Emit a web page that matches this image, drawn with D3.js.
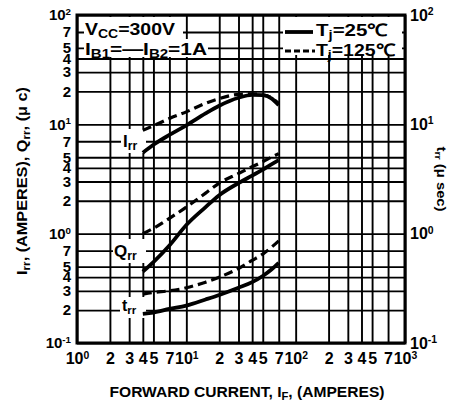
<!DOCTYPE html>
<html>
<head>
<meta charset="utf-8">
<script src="https://cdn.jsdelivr.net/npm/d3@7"></script>
<style>
  body { margin: 0; background: #fff; }
  text { font-family: "Liberation Sans", Arial, sans-serif; font-weight: bold; fill: #000; }
</style>
</head>
<body>
<svg id="chart" width="459" height="407"></svg>
<script>
// forward current I_F (amperes) where the curves were read
const forwardCurrent = [4, 5, 7, 10, 15, 20, 30, 40, 50, 60, 70];

// Irr (A), Qrr (uC), trr (usec) at Tj = 25C and 125C
const irr25  = [5.5, 6.5, 8.0, 9.8, 12.6, 14.8, 17.5, 18.6, 18.5, 17.3, 15.0];
const irr125 = [8.8, 9.7, 11.3, 13.0, 15.6, 17.2, 18.8, 19.0, 18.6, 17.5, 15.5];
const qrr25  = [0.45, 0.55, 0.78, 1.2, 1.75, 2.25, 2.9, 3.4, 3.85, 4.3, 4.7];
const qrr125 = [1.0, 1.12, 1.38, 1.75, 2.35, 2.9, 3.55, 4.1, 4.55, 5.0, 5.4];
const trr25  = [0.185, 0.19, 0.205, 0.22, 0.25, 0.275, 0.32, 0.36, 0.41, 0.47, 0.54];
const trr125 = [0.28, 0.29, 0.30, 0.32, 0.36, 0.40, 0.48, 0.57, 0.65, 0.75, 0.86];

// grid / tick values
const xTicks = [1, 2, 3, 4, 5, 7, 10, 20, 30, 40, 50, 70, 100, 200, 300, 400, 500, 700, 1000];
const yTicks = [0.1, 0.2, 0.3, 0.4, 0.5, 0.7, 1, 2, 3, 4, 5, 7, 10, 20, 30, 40, 50, 70, 100];
const yRightTicks = [0.1, 1, 10, 100];

const svg = d3.select("#chart");
const pl = 77, pr = 405, pt = 15, pb = 343;

const x = d3.scaleLog().domain([1, 1000]).range([pl, pr]);
const y = d3.scaleLog().domain([0.1, 100]).range([pb, pt]);
const yRight = d3.scaleLog().domain([0.1, 100]).range([pb, pt]);

svg.append("rect").attr("width", 459).attr("height", 407).attr("fill", "#fff");

// label like 10^n, or plain digit
function tickLabel(sel) {
  sel.each(function(d) {
    const t = d3.select(this);
    const e = Math.log10(d);
    if (Math.abs(e - Math.round(e)) < 1e-9) {
      t.text(null);
      t.append("tspan").text("10");
      t.append("tspan").attr("font-size", "0.65em").attr("dy", "-0.55em").text(Math.round(e));
    } else {
      t.text(String(Math.round(d / Math.pow(10, Math.floor(e + 1e-9)))));
    }
  });
}

// text with subscripts: parts = [[str, isSub], ...]
function rich(t, parts) {
  let down = false;
  parts.forEach(([s, sub]) => {
    const sp = t.append("tspan").text(s);
    if (sub) { sp.attr("font-size", "0.72em").attr("dy", down ? null : "0.28em"); down = true; }
    else if (down) { sp.attr("dy", "-0.2em"); down = false; }
  });
  return t;
}

// grid
const gx = svg.append("g")
  .attr("transform", `translate(0,${pb})`)
  .call(d3.axisBottom(x).tickValues(xTicks).tickSize(-(pb - pt)).tickFormat(""));
const gy = svg.append("g")
  .attr("transform", `translate(${pl},0)`)
  .call(d3.axisLeft(y).tickValues(yTicks).tickSize(-(pr - pl)).tickFormat(""));
[gx, gy].forEach(g => {
  g.select(".domain").remove();
  g.selectAll("line").attr("stroke", "#000").attr("stroke-width", 1.9);
});

// white boxes behind the in-plot texts
const boxes = [
  [84, 17, 99, 40], [183, 39, 25, 18], [283, 17, 119, 38],
  [121, 129, 25, 24], [113, 239, 33, 24], [120, 297, 26, 21]
];
svg.append("g").selectAll("rect").data(boxes).join("rect")
  .attr("x", d => d[0]).attr("y", d => d[1]).attr("width", d => d[2]).attr("height", d => d[3])
  .attr("fill", "#fff");

// curves
const line = (sc) => d3.line().x(d => x(d[0])).y(d => sc(d[1])).curve(d3.curveMonotoneX);
const series = [
  { v: irr25, sc: y, dash: null }, { v: irr125, sc: y, dash: "9,5" },
  { v: qrr25, sc: y, dash: null }, { v: qrr125, sc: y, dash: "9,5" },
  { v: trr25, sc: yRight, dash: null }, { v: trr125, sc: yRight, dash: "9,5" }
];
svg.append("g").selectAll("path").data(series).join("path")
  .attr("d", s => line(s.sc)(forwardCurrent.map((f, i) => [f, s.v[i]])))
  .attr("fill", "none").attr("stroke", "#000")
  .attr("stroke-width", s => s.dash ? 3.2 : 3.8)
  .attr("stroke-dasharray", s => s.dash);

// frame
svg.append("rect").attr("x", pl).attr("y", pt).attr("width", pr - pl).attr("height", pb - pt)
  .attr("fill", "none").attr("stroke", "#000").attr("stroke-width", 3);

// tick labels
const ax = svg.append("g").attr("transform", `translate(0,${pb})`)
  .call(d3.axisBottom(x).tickValues(xTicks).tickSize(0).tickPadding(10));
const ayl = svg.append("g").attr("transform", `translate(${pl},0)`)
  .call(d3.axisLeft(y).tickValues(yTicks).tickSize(0).tickPadding(6));
const ayr = svg.append("g").attr("transform", `translate(${pr},0)`)
  .call(d3.axisRight(yRight).tickValues(yRightTicks).tickSize(0).tickPadding(5));
[[ax, 16], [ayl, 15], [ayr, 16]].forEach(([g, fs]) => {
  g.select(".domain").remove();
  g.attr("font-size", fs).attr("font-family", null);
  g.selectAll("text").attr("fill", "#000").call(tickLabel);
});

// in-plot legend texts
rich(svg.append("text").attr("x", 85).attr("y", 35).attr("font-size", 17)
  .attr("textLength", 90).attr("lengthAdjust", "spacingAndGlyphs"),
  [["V", 0], ["CC", 1], ["=300V", 0]]);
rich(svg.append("text").attr("x", 85).attr("y", 55).attr("font-size", 17)
  .attr("textLength", 122).attr("lengthAdjust", "spacingAndGlyphs"),
  [["I", 0], ["B1", 1], ["=\u2014I", 0], ["B2", 1], ["=1A", 0]]);

svg.append("line").attr("x1", 285).attr("x2", 313).attr("y1", 32).attr("y2", 32)
  .attr("stroke", "#000").attr("stroke-width", 3.8);
svg.append("line").attr("x1", 285).attr("x2", 315).attr("y1", 51).attr("y2", 51)
  .attr("stroke", "#000").attr("stroke-width", 3.2).attr("stroke-dasharray", "6,3");
rich(svg.append("text").attr("x", 316).attr("y", 36).attr("font-size", 17)
  .attr("textLength", 72).attr("lengthAdjust", "spacingAndGlyphs"),
  [["T", 0], ["j", 1], ["=25\u2103", 0]]);
rich(svg.append("text").attr("x", 316).attr("y", 56).attr("font-size", 17)
  .attr("textLength", 79).attr("lengthAdjust", "spacingAndGlyphs"),
  [["T", 0], ["j", 1], ["=125\u2103", 0]]);

// curve names
rich(svg.append("text").attr("x", 123).attr("y", 147).attr("font-size", 17), [["I", 0], ["rr", 1]]);
rich(svg.append("text").attr("x", 114).attr("y", 257).attr("font-size", 17), [["Q", 0], ["rr", 1]]);
rich(svg.append("text").attr("x", 122).attr("y", 311).attr("font-size", 16), [["t", 0], ["rr", 1]]);

// axis titles
rich(svg.append("text").attr("transform", "translate(27,181) rotate(-90)")
  .attr("text-anchor", "middle").attr("font-size", 14)
  .attr("textLength", 188).attr("lengthAdjust", "spacingAndGlyphs"),
  [["I", 0], ["rr", 1], [", (AMPERES), Q", 0], ["rr", 1], [", (\u03bc c)", 0]]);
rich(svg.append("text").attr("transform", "translate(437,179) rotate(90)")
  .attr("text-anchor", "middle").attr("font-size", 12)
  .attr("textLength", 65).attr("lengthAdjust", "spacingAndGlyphs"),
  [["t", 0], ["rr", 1], [" (\u03bc sec)", 0]]);
rich(svg.append("text").attr("x", 247).attr("y", 397)
  .attr("text-anchor", "middle").attr("font-size", 14)
  .attr("textLength", 275).attr("lengthAdjust", "spacingAndGlyphs"),
  [["FORWARD CURRENT, I", 0], ["F", 1], [", (AMPERES)", 0]]);
</script>
</body>
</html>
